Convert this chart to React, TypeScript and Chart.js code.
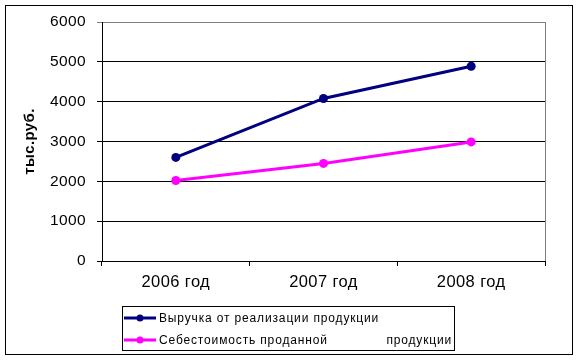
import React, { useEffect, useRef } from "react";
import { Chart, registerables } from "chart.js";

Chart.register(...registerables);

const categories = ["2006 год", "2007 год", "2008 год"];
const revenue = [2600, 4080, 4890];
const cost = [2020, 2450, 2990];
const seriesNames = ["Выручка от реализации продукции", "Себестоимость проданной              продукции"];
const seriesColors = ["#000080", "#FF00FF"];
const yTitle = "тыс.руб.";

const FONT = "'Liberation Sans', Arial, sans-serif";

const frame = {
  id: "frame",
  beforeDraw(chart: any) {
    const ctx = chart.ctx;
    ctx.save();
    ctx.fillStyle = "#ffffff";
    ctx.fillRect(0, 0, chart.width, chart.height);
    ctx.restore();
    (ctx as any).letterSpacing = "0.4px";
  },
  beforeDatasetsDraw(chart: any) {
    const { ctx, chartArea } = chart;
    ctx.save();
    ctx.strokeStyle = "#808080";
    ctx.lineWidth = 1;
    ctx.beginPath();
    const x = Math.round(chartArea.right) + 0.5;
    ctx.moveTo(x, chartArea.top);
    ctx.lineTo(x, chartArea.bottom);
    ctx.stroke();
    ctx.restore();
  },
  afterDraw(chart: any) {
    const ctx = chart.ctx;
    ctx.save();
    ctx.strokeStyle = "#000000";
    ctx.lineWidth = 1;
    ctx.strokeRect(5.5, 5.5, 567, 349);
    // legend
    ctx.strokeRect(122.5, 306.5, 332, 44);
    const rows = [318, 340];
    ctx.font = "12px " + FONT;
    (ctx as any).letterSpacing = "0.85px";
    ctx.textBaseline = "middle";
    ctx.textAlign = "left";
    seriesNames.forEach((name, i) => {
      const y = rows[i];
      ctx.strokeStyle = seriesColors[i];
      ctx.lineWidth = 3;
      ctx.beginPath();
      ctx.moveTo(124, y);
      ctx.lineTo(156, y);
      ctx.stroke();
      ctx.fillStyle = seriesColors[i];
      ctx.beginPath();
      ctx.arc(140, y, 3.5, 0, Math.PI * 2);
      ctx.fill();
      ctx.fillStyle = "#000000";
      ctx.fillText(name, 159, y + 1);
    });
    ctx.restore();
    (ctx as any).letterSpacing = "0px";
  },
};

export default function App() {
  const ref = useRef<HTMLCanvasElement>(null);
  useEffect(() => {
    if (!ref.current) return;
    const chart = new Chart(ref.current, {
      type: "line",
      data: {
        labels: categories,
        datasets: [
          {
            label: seriesNames[0],
            data: revenue,
            borderColor: seriesColors[0],
            backgroundColor: seriesColors[0],
            borderWidth: 3,
            pointRadius: 4.5,
            pointBorderWidth: 0,
            pointBackgroundColor: seriesColors[0],
            tension: 0,
          },
          {
            label: seriesNames[1],
            data: cost,
            borderColor: seriesColors[1],
            backgroundColor: seriesColors[1],
            borderWidth: 3,
            pointRadius: 4.5,
            pointBorderWidth: 0,
            pointBackgroundColor: seriesColors[1],
            tension: 0,
          },
        ],
      },
      options: {
        animation: false,
        responsive: true,
        maintainAspectRatio: false,
        layout: { padding: { left: 0, right: 35, top: 22, bottom: 60 } },
        plugins: { legend: { display: false }, tooltip: { enabled: false } },
        scales: {
          x: {
            offset: true,
            grid: {
              offset: true,
              drawOnChartArea: false,
              color: "#000000",
              tickLength: 5,
            },
            border: { color: "#000000", width: 1 },
            ticks: {
              color: "#000000",
              padding: 7,
              font: { family: FONT, size: 16.5 },
            },
            afterFit: (s: any) => {
              s.height = 40;
            },
          },
          y: {
            min: 0,
            max: 6000,
            ticks: {
              stepSize: 1000,
              color: "#000000",
              padding: 11,
              font: { family: FONT, size: 15.5 },
              callback: (v: any) => String(v),
            },
            grid: {
              color: (c: any) => (c.tick && c.tick.value === 6000 ? "#808080" : "#000000"),
              tickLength: 5,
            },
            border: { color: "#000000", width: 1 },
            title: {
              display: true,
              text: yTitle,
              color: "#000000",
              font: { family: FONT, size: 15, weight: "bold" },
              padding: { top: 21, bottom: 0 },
            },
            afterFit: (s: any) => {
              s.width = 102;
            },
          },
        },
      },
      plugins: [frame],
    });
    return () => chart.destroy();
  }, []);
  return (
    <div style={{ position: "fixed", left: 0, top: 0, width: 580, height: 361, background: "#fff" }}>
      <canvas ref={ref} />
    </div>
  );
}
